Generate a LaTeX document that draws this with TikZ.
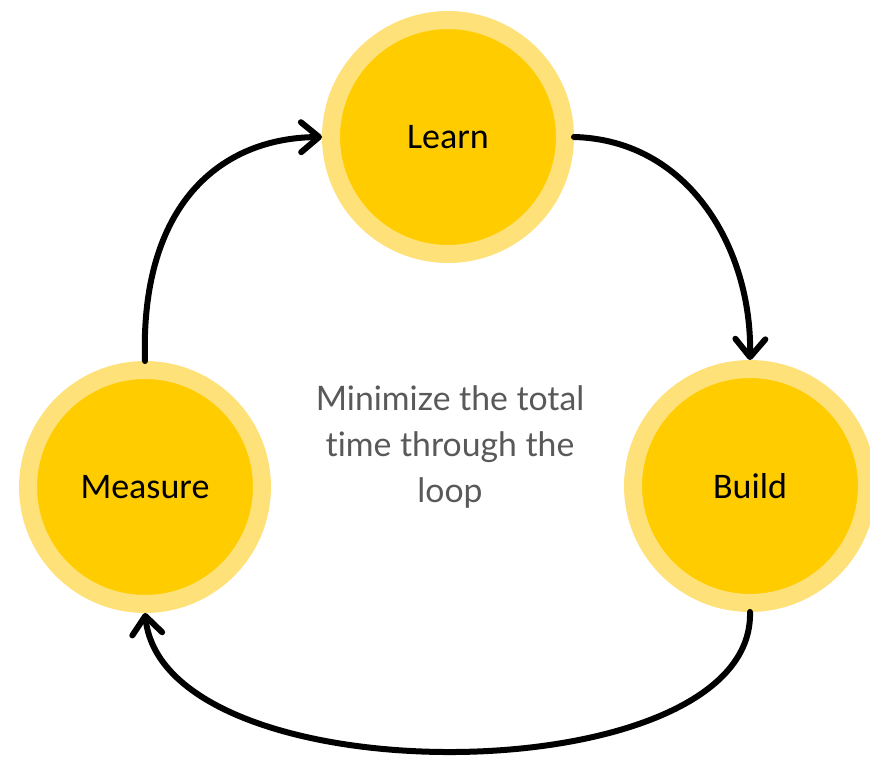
\documentclass[tikz,border=0pt]{standalone}
\usepackage{fontspec}
\setmainfont{Carlito}
\newfontfamily\latofont[Ligatures=NoCommon]{Lato}
\usetikzlibrary{arrows.meta}
\definecolor{ringyellow}{HTML}{FFE17A}
\definecolor{coreyellow}{HTML}{FFCC00}
\definecolor{textgrey}{HTML}{595959}

\begin{document}
\begin{tikzpicture}[x=0.02cm, y=-0.02cm]
 \tikzstyle{etape}=[circle, draw=ringyellow, fill=coreyellow, line width=0.36cm, minimum size=4.68cm, inner sep=0pt, text=black, font=\fontsize{20.5}{24}\selectfont]
 \tikzstyle{fleche}=[-{Straight Barb[length=0.36cm, width=0.6cm, round]}, line width=0.12cm, line cap=round, line join=round, black]
 \useasboundingbox (0, 0) rectangle (870, 757);
 %
 \node[etape] (Learn) at (448, 137) {Learn};
 \node[etape] (Build) at (750, 486) {Build};
 \node[etape] (Measure) at (145, 487) {Measure};
 %
 \node[align=center, text=textgrey, font=\latofont\fontsize{19.2}{26}\selectfont] (goal) at (450, 447) {Minimize the total\\time through the\\loop};
 %%
 \draw[fleche] (Learn.east) .. controls (690, 140) and (752, 250) .. (Build.north);
 \draw[fleche] (Build.south) .. controls (755, 795) and (165, 800) .. (Measure.south);
 \draw[fleche] (Measure.north) .. controls (140, 205) and (220, 138) .. (Learn.west);
\end{tikzpicture}
\end{document}
